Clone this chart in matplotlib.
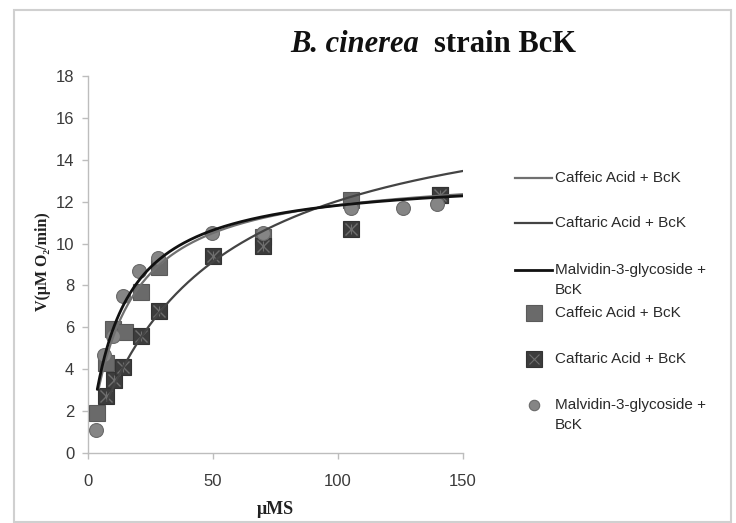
import numpy as np
import matplotlib
matplotlib.use("Agg")
import matplotlib.pyplot as plt
from matplotlib.lines import Line2D
from matplotlib.patches import Rectangle

# Substrate concentration (µM) and initial rate V (µM O2/min)
caffeic_s = [3.7, 7.1, 10.1, 14.8, 21.2, 28.4, 69.9, 105.2, 140.8]
caffeic_v = [1.9, 4.3, 5.9, 5.8, 7.7, 8.9, 10.3, 12.1, 12.3]

caftaric_s = [7.1, 10.5, 14.1, 21.2, 28.4, 50.1, 69.9, 105.2, 140.8]
caftaric_v = [2.7, 3.5, 4.1, 5.6, 6.8, 9.4, 9.9, 10.7, 12.3]

malvidin_s = [3.1, 6.5, 10.1, 13.9, 20.4, 27.9, 49.5, 69.9, 105.2, 125.9, 139.5]
malvidin_v = [1.1, 4.7, 5.6, 7.5, 8.7, 9.3, 10.5, 10.5, 11.7, 11.7, 11.9]

# Michaelis-Menten fit parameters (Vmax, Km)
caffeic_fit = (13.55, 14.5)
caftaric_fit = (17.65, 46.6)
malvidin_fit = (13.3, 12.5)

labels = ["Caffeic Acid + BcK", "Caftaric Acid + BcK",
          "Malvidin-3-glycoside +\nBcK"]

x_ticks = [0, 50, 100, 150]
y_ticks = [0, 2, 4, 6, 8, 10, 12, 14, 16, 18]


def mm(s, params):
    vmax, km = params
    return vmax * s / (km + s)


W, H = 736, 523
fig = plt.figure(figsize=(W / 100, H / 100), dpi=100)
ax = fig.add_axes([0.1196, 0.1338, 0.5095, 0.7209])

sans = ["Liberation Sans", "DejaVu Sans"]
serif = ["Liberation Serif", "DejaVu Serif"]

# series styles
c_caffeic = "#6a6a6a"
c_caftaric = "#3c3c3c"
c_malv = "#858585"
l_caffeic = ("#707070", 1.6)
l_caftaric = ("#444444", 1.6)
l_malv = ("#111111", 2.0)

ax.plot(caffeic_s, caffeic_v, ls="none", marker="s", ms=12,
        mfc=c_caffeic, mec="#5a5a5a", mew=0.8, zorder=3)
ax.plot(caftaric_s, caftaric_v, ls="none", marker="s", ms=12,
        mfc=c_caftaric, mec="#333333", mew=0.8, zorder=4)
ax.plot(caftaric_s, caftaric_v, ls="none", marker="x", ms=9,
        mec="#6e6e6e", mew=1.0, zorder=4.1)
ax.plot(caftaric_s, caftaric_v, ls="none", marker="|", ms=7,
        mec="#6e6e6e", mew=0.8, zorder=4.1)
ax.plot(malvidin_s, malvidin_v, ls="none", marker="o", ms=10,
        mfc=c_malv, mec="#6a6a6a", mew=0.8, zorder=5)

# fitted curves
for s_data, params, (col, lw) in [(caffeic_s, caffeic_fit, l_caffeic),
                                  (caftaric_s, caftaric_fit, l_caftaric),
                                  (malvidin_s, malvidin_fit, l_malv)]:
    s = np.linspace(min(s_data) + 0.6, 150, 300)
    ax.plot(s, mm(s, params), color=col, lw=lw, zorder=6,
            solid_capstyle="round")

ax.set_xlim(0, 150)
ax.set_ylim(0, 18)
ax.set_xticks(x_ticks)
ax.set_yticks(y_ticks)
for sp in ["top", "right"]:
    ax.spines[sp].set_visible(False)
for sp in ["left", "bottom"]:
    ax.spines[sp].set_color("#bdbdbd")
    ax.spines[sp].set_linewidth(1.0)
ax.tick_params(axis="both", direction="out", length=4, width=1.0,
               color="#bdbdbd", labelcolor="#3a3a3a", labelsize=12)
ax.tick_params(axis="x", pad=11)
ax.tick_params(axis="y", pad=6)
for t in ax.get_xticklabels() + ax.get_yticklabels():
    t.set_family(sans)

ax.set_xlabel("μMS", family=serif, fontweight="bold", fontsize=13,
              color="#222222", labelpad=9)
fig.text(43 / W, 1 - 262 / H, "V(μM O₂/min)", family=serif,
         fontweight="bold", fontsize=11.5, color="#222222", rotation=90,
         ha="center", va="center")

# title
fig.text(0.569, 0.9015, "B. cinerea", family=serif, fontweight="bold",
         fontstyle="italic", fontsize=22, ha="right", va="baseline",
         color="#111111")
fig.text(0.589, 0.9015, "strain BcK", family=serif, fontweight="bold",
         fontsize=22, ha="left", va="baseline", color="#111111")

# legend, drawn entry by entry in pixel positions
def px(x, y):
    return x / W, 1 - y / H

legend_rows = [
    ("line", l_caffeic, labels[0], 178),
    ("line", l_caftaric, labels[1], 223),
    ("line", l_malv, labels[2], 270),
    ("s", (c_caffeic, "#5a5a5a"), labels[0], 313),
    ("s", (c_caftaric, "#333333"), labels[1], 359),
    ("o", (c_malv, "#6a6a6a"), labels[2], 405),
]
for kind, style, text, yc in legend_rows:
    if kind == "line":
        (x0, y0), (x1, _) = px(515, yc), px(552, yc)
        fig.add_artist(Line2D([x0, x1], [y0, y0], color=style[0],
                              lw=style[1], transform=fig.transFigure))
    else:
        xm, ym = px(534, yc)
        fig.add_artist(Line2D([xm], [ym], ls="none", marker=kind,
                              ms=11 if kind == "s" else 7.5,
                              mfc=style[0], mec=style[1], mew=0.8,
                              transform=fig.transFigure))
        if kind == "s" and style[0] == c_caftaric:
            fig.add_artist(Line2D([xm], [ym], ls="none", marker="x", ms=7,
                                  mec="#6e6e6e", mew=0.8,
                                  transform=fig.transFigure))
    for i, part in enumerate(text.split("\n")):
        tx, ty = px(555, yc + 20 * i)
        fig.text(tx, ty, part, family=sans, fontsize=11, color="#2a2a2a",
                 ha="left", va="center")

# chart frame
fig.patches.append(Rectangle((14 / W, 1 / H), 717 / W, 512 / H,
                             transform=fig.transFigure, fill=False,
                             edgecolor="#d0d0d0", lw=1.5))

fig.savefig("out.png", dpi=100)
